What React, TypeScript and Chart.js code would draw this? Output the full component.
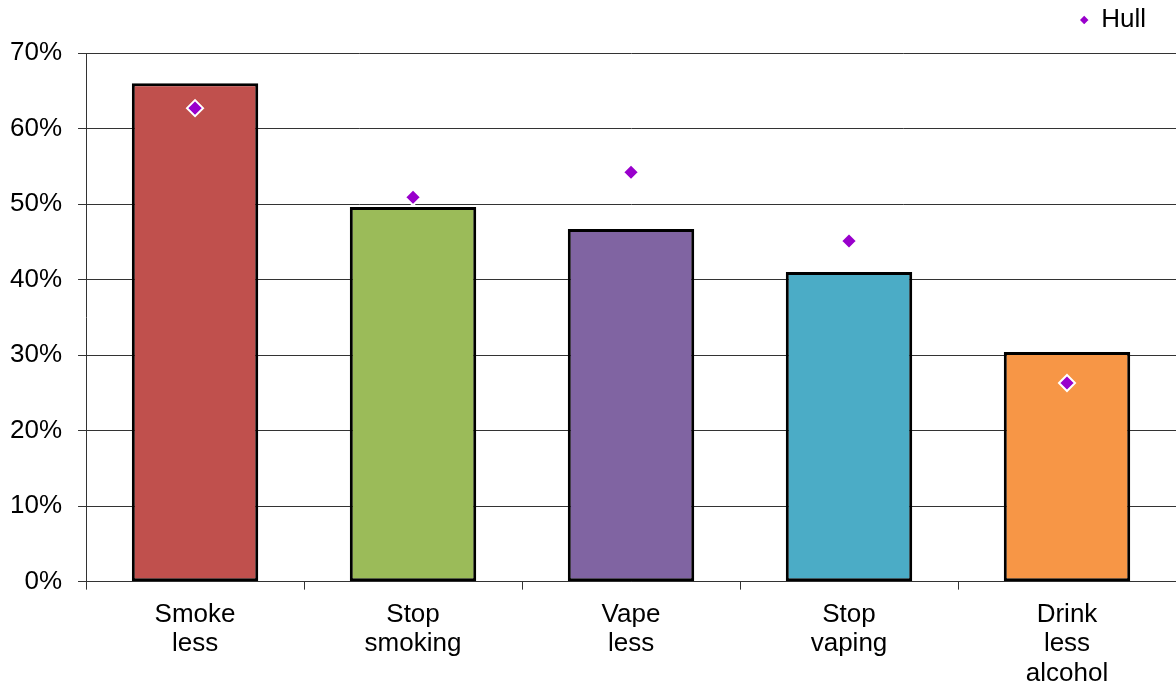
import React, { useEffect, useRef } from "react";
import { Chart, registerables } from "chart.js";

Chart.register(...registerables);

const categories: string[][] = [
  ["Smoke", "less"],
  ["Stop", "smoking"],
  ["Vape", "less"],
  ["Stop", "vaping"],
  ["Drink", "less", "alcohol"],
];
const barValues: number[] = [66, 49.6, 46.7, 41, 30.4];
const hullValues: number[] = [62.7, 50.9, 54.2, 45.1, 26.3];
const barColors: string[] = ["#C0504D", "#9BBB59", "#8064A2", "#4BACC6", "#F79646"];
const yTicks: number[] = [0, 10, 20, 30, 40, 50, 60, 70];

const FONT = "'Liberation Sans', Arial, sans-serif";
const GRID = "#333333";

const legendSpacer = {
  id: "legendSpacer",
  beforeInit(chart: any) {
    const legend = chart.legend;
    if (!legend) return;
    const origFit = legend.fit;
    legend.fit = function () {
      origFit.call(this);
      this.height += 12;
    };
  },
  afterLayout(chart: any) {
    const legend = chart.legend;
    if (!legend) return;
    legend.right -= 25;
    legend.top += 2;
  },
};

export default function App() {
  const ref = useRef<HTMLCanvasElement | null>(null);
  useEffect(() => {
    document.body.style.margin = "0";
    if (!ref.current) return;
    const chart = new Chart(ref.current, {
      type: "bar",
      data: {
        labels: categories,
        datasets: [
          {
            type: "line",
            label: "Hull",
            data: hullValues,
            showLine: false,
            pointStyle: "rectRot",
            pointRadius: 8,
            pointBorderWidth: 2,
            backgroundColor: "#9900CC",
            borderColor: "#FFFFFF",
            pointBackgroundColor: "#9900CC",
            pointBorderColor: "#FFFFFF",
            order: 0,
          } as any,
          {
            type: "bar",
            label: "All",
            data: barValues,
            backgroundColor: barColors,
            borderColor: "#000000",
            borderWidth: 3,
            borderSkipped: false,
            barPercentage: 0.58,
            categoryPercentage: 1,
            order: 1,
          },
        ],
      },
      plugins: [legendSpacer],
      options: {
        responsive: false,
        animation: false,
        layout: { autoPadding: false, padding: { left: -6, right: 0, top: 0, bottom: -13 } },
        plugins: {
          tooltip: { enabled: false },
          legend: {
            position: "top",
            align: "end",
            labels: {
              usePointStyle: true,
              boxWidth: 8,
              boxHeight: 8,
              padding: 5,
              color: "#000",
              font: { family: FONT, size: 26 },
              filter: (item: any) => item.text === "Hull",
            },
          },
        },
        scales: {
          x: {
            grid: {
              offset: true,
              drawOnChartArea: false,
              drawTicks: true,
              tickLength: 8,
              color: GRID,
            },
            border: { color: GRID, width: 1 },
            ticks: {
              color: "#000",
              padding: 11,
              maxRotation: 0,
              autoSkip: false,
              font: { family: FONT, size: 26, lineHeight: 1.12 },
            },
          },
          y: {
            min: 0,
            max: 70,
            afterBuildTicks: (axis: any) => {
              axis.ticks = yTicks.map((v) => ({ value: v }));
            },
            grid: { color: GRID, tickLength: 8, drawTicks: true },
            border: { color: GRID, width: 1 },
            ticks: {
              color: "#000",
              padding: 16,
              font: { family: FONT, size: 26 },
              callback: (v: any) => v + "%",
            },
          },
        },
      },
    });
    return () => chart.destroy();
  }, []);
  return <canvas ref={ref} width={1176} height={686} style={{ display: "block" }} />;
}
